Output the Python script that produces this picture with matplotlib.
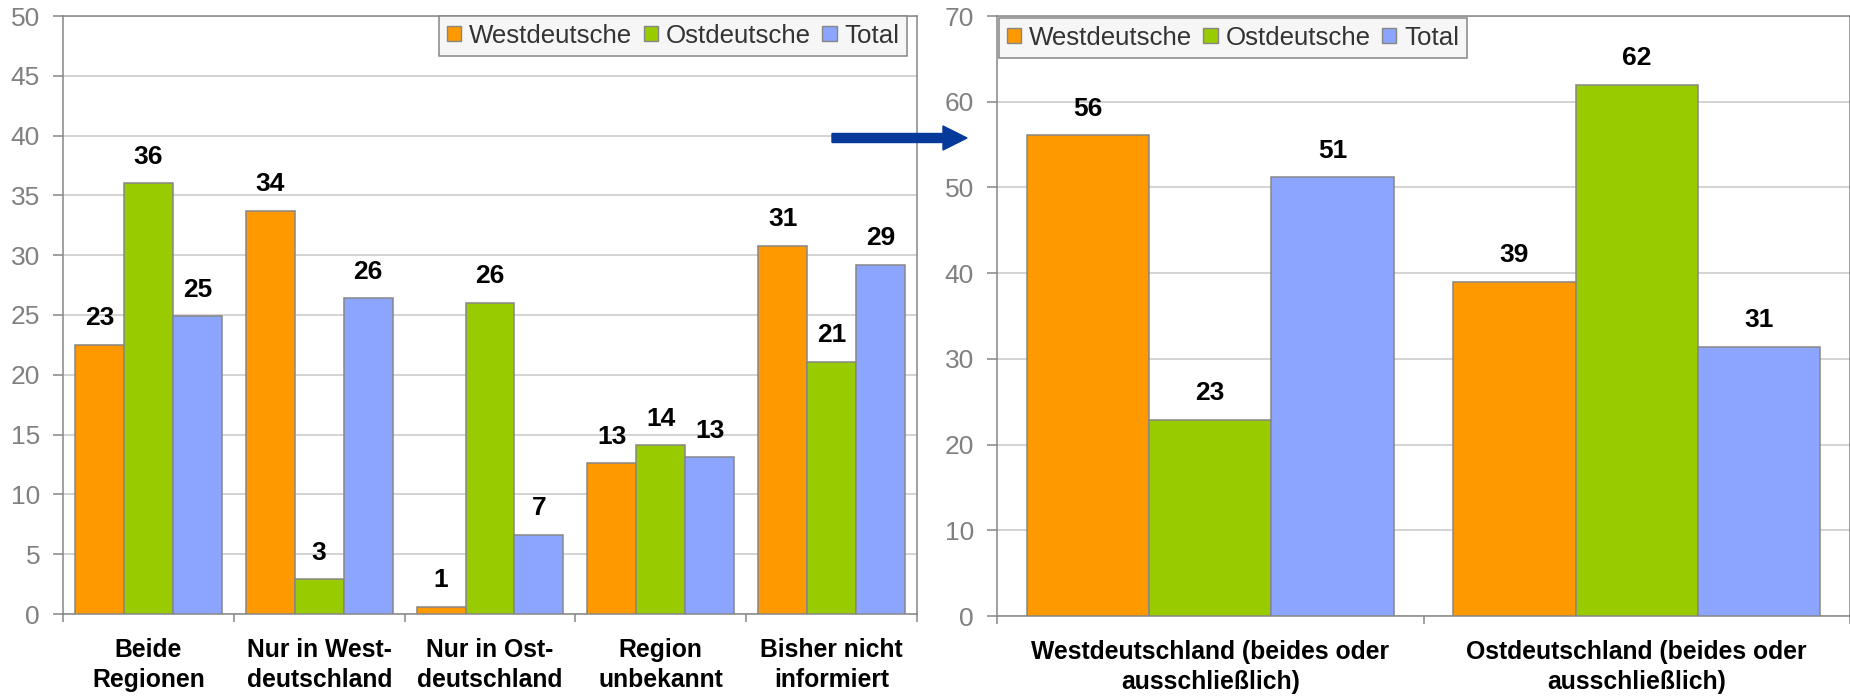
import matplotlib
matplotlib.use("Agg")
import matplotlib.pyplot as plt
import numpy as np
from matplotlib.patches import FancyArrow, Patch
from matplotlib.transforms import IdentityTransform

plt.rcParams['font.family'] = ['Liberation Sans', 'DejaVu Sans']

# ---- data ----
series = ["Westdeutsche", "Ostdeutsche", "Total"]
colors = ["#FF9900", "#99CC00", "#8CA6FF"]

left_categories = ["Beide\nRegionen", "Nur in West-\ndeutschland", "Nur in Ost-\ndeutschland",
                   "Region\nunbekannt", "Bisher nicht\ninformiert"]
left_west = [22.5, 33.7, 0.6, 12.6, 30.8]
left_ost = [36.0, 2.9, 26.0, 14.1, 21.1]
left_total = [24.9, 26.4, 6.6, 13.1, 29.2]
left_west_lbl = ["23", "34", "1", "13", "31"]
left_ost_lbl = ["36", "3", "26", "14", "21"]
left_total_lbl = ["25", "26", "7", "13", "29"]
left_yticks = [0, 5, 10, 15, 20, 25, 30, 35, 40, 45, 50]

right_categories = ["Westdeutschland (beides oder\nausschließlich)",
                    "Ostdeutschland (beides oder\nausschließlich)"]
right_west = [56.1, 39.0]
right_ost = [22.9, 62.0]
right_total = [51.2, 31.4]
right_west_lbl = ["56", "39"]
right_ost_lbl = ["23", "62"]
right_total_lbl = ["51", "31"]
right_yticks = [0, 10, 20, 30, 40, 50, 60, 70]

W, H = 1850, 699
fig = plt.figure(figsize=(W / 100, H / 100), dpi=100)

GRAY = "#868686"
GRID = "#c8c8c8"


def px_axes(x0, x1, y_top, y_bot):
    return fig.add_axes([x0 / W, (H - y_bot) / H, (x1 - x0) / W, (y_bot - y_top) / H])


def draw(ax, cats, vals, lbls, yticks, legend_loc, legend_anchor):
    n = len(cats)
    x = np.arange(n)
    bw = 0.86 / 3
    for i, (v, l) in enumerate(zip(vals, lbls)):
        xs = x + (i - 1) * bw
        ax.bar(xs, v, width=bw, color=colors[i], edgecolor=GRAY, linewidth=1.1,
               label=series[i], zorder=3)
        for xi, vi, li in zip(xs, v, l):
            ax.annotate(li, (xi, vi), xytext=(0, 10.5), textcoords="offset points",
                        ha="center", va="bottom", fontsize=19, fontweight="bold",
                        color="black", zorder=4)
    ax.set_xlim(-0.5, n - 0.5)
    ax.set_ylim(yticks[0], yticks[-1])
    ax.set_yticks(yticks)
    ax.yaxis.grid(True, color=GRID, linewidth=1.1, zorder=0)
    ax.set_axisbelow(True)
    ax.tick_params(axis="y", labelsize=19, labelcolor="#808080", color=GRAY,
                   length=7.5, width=1.1, pad=9)
    ax.set_xticks(x)
    ax.set_xticklabels(cats, fontsize=17.8, fontweight="bold", linespacing=1.32)
    ax.tick_params(axis="x", which="major", length=0, pad=17)
    ax.set_xticks(np.arange(n + 1) - 0.5, minor=True)
    ax.tick_params(axis="x", which="minor", length=6, width=1.1, color=GRAY)
    for s in ax.spines.values():
        s.set_color(GRAY)
        s.set_linewidth(1.1)
    handles = [Patch(facecolor=colors[i], edgecolor=GRAY, linewidth=1.0, label=series[i])
               for i in range(3)]
    leg = ax.legend(handles=handles, loc=legend_loc, bbox_to_anchor=legend_anchor,
                    ncol=3, fontsize=18.6, frameon=True, fancybox=False,
                    handlelength=0.55, handleheight=0.55, handletextpad=0.3,
                    columnspacing=0.45, borderpad=0.3, borderaxespad=0.0)
    leg.get_frame().set_facecolor("#f6f6f6")
    leg.get_frame().set_edgecolor(GRAY)
    leg.get_frame().set_linewidth(1.1)
    leg.get_frame().set_alpha(1.0)
    for t in leg.get_texts():
        t.set_color("#333333")
    return ax


ax1 = px_axes(63, 917, 16, 614)
draw(ax1, left_categories, [left_west, left_ost, left_total],
     [left_west_lbl, left_ost_lbl, left_total_lbl], left_yticks,
     "upper right", (1 - 10 / 854, 1.0))

ax2 = px_axes(997, 1850, 16, 616)
draw(ax2, right_categories, [right_west, right_ost, right_total],
     [right_west_lbl, right_ost_lbl, right_total_lbl], right_yticks,
     "upper left", (2 / 853, 1 - 2 / 600))

arrow = FancyArrow(832, H - 138, 135, 0, width=9, head_width=24, head_length=24,
                   length_includes_head=True, color="#063a9a",
                   transform=IdentityTransform())
fig.add_artist(arrow)

fig.savefig("out.png", dpi=100)
